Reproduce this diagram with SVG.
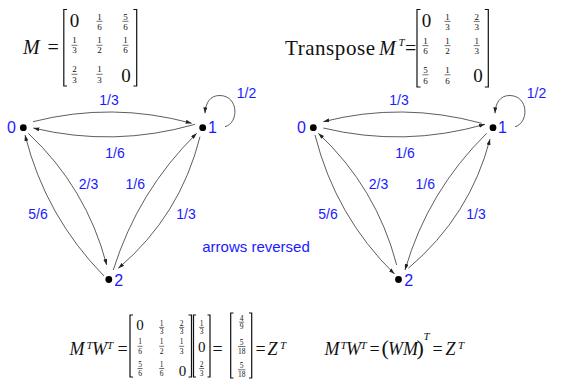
<svg xmlns="http://www.w3.org/2000/svg" width="582" height="383" viewBox="0 0 582 383">
<style>
.bg{fill:#fff}
.m{font-family:"Liberation Serif","Times New Roman",serif;fill:#111}
.mi{font-style:italic}
.big{font-size:20px}
.zero{font-size:19px}
.sup{font-size:11px;font-style:italic}
.fr{font-size:9px;text-anchor:middle}
.fs{font-size:7.5px;text-anchor:middle}
.z15{font-size:15px;text-anchor:middle}
.bar{stroke:#111;stroke-width:0.6}
.br{fill:none;stroke:#111;stroke-width:1.2}
.lbl{font-family:"Liberation Sans",Arial,sans-serif;fill:#1a1aff}
.nl{font-size:16px}
.el{font-size:14px;text-anchor:middle}
.edge{fill:none;stroke:#333;stroke-width:0.8;marker-end:url(#ah)}
.dot{fill:#000}
</style>
<defs>
<marker id="ah" viewBox="0 0 6 4" refX="6" refY="2" markerWidth="6" markerHeight="4" markerUnits="userSpaceOnUse" orient="auto">
<path d="M0,0 L6,2 L0,4 z" fill="#222"/>
</marker>
</defs>
<rect class="bg" x="0" y="0" width="582" height="383"/>

<!-- Matrix M -->
<g id="matrixM" class="m">
<text x="23" y="54" class="big mi">M</text>
<text x="47.5" y="54" class="big">=</text>
<path class="br" d="M67 9.5H63.8V86H67"/>
<path class="br" d="M133.4 9.5H136.7V86H133.4"/>
<text x="74.5" y="26.5" class="zero" text-anchor="middle">0</text>
<text x="99.5" y="19.5" class="fr">1</text><line class="bar" x1="96.5" x2="102.5" y1="21.3" y2="21.3"/><text x="99.5" y="29.5" class="fr">6</text>
<text x="125.5" y="19.5" class="fr">5</text><line class="bar" x1="122.5" x2="128.5" y1="21.3" y2="21.3"/><text x="125.5" y="29.5" class="fr">6</text>
<text x="74.5" y="43.3" class="fr">1</text><line class="bar" x1="71.5" x2="77.5" y1="45.3" y2="45.3"/><text x="74.5" y="53.3" class="fr">3</text>
<text x="99.5" y="43.3" class="fr">1</text><line class="bar" x1="96.5" x2="102.5" y1="45.3" y2="45.3"/><text x="99.5" y="53.3" class="fr">2</text>
<text x="125.5" y="43.3" class="fr">1</text><line class="bar" x1="122.5" x2="128.5" y1="45.3" y2="45.3"/><text x="125.5" y="53.3" class="fr">6</text>
<text x="74.5" y="71.8" class="fr">2</text><line class="bar" x1="71.5" x2="77.5" y1="74.3" y2="74.3"/><text x="74.5" y="83.3" class="fr">3</text>
<text x="99.5" y="71.8" class="fr">1</text><line class="bar" x1="96.5" x2="102.5" y1="74.3" y2="74.3"/><text x="99.5" y="83.3" class="fr">3</text>
<text x="126" y="82" class="zero" text-anchor="middle">0</text>
</g>

<!-- Transpose M^T -->
<g id="matrixMT" class="m">
<text x="285" y="54.5" font-size="21" textLength="90" lengthAdjust="spacing">Transpose</text>
<text x="379" y="54.5" class="big mi">M</text>
<text x="398.5" y="46" class="sup">T</text>
<text x="405" y="54.5" class="big">=</text>
<path class="br" d="M420.5 9.5H417V87H420.5"/>
<path class="br" d="M484.8 9.5H488.3V87H484.8"/>
<text x="426.5" y="26.8" class="zero" text-anchor="middle">0</text>
<text x="447.5" y="19.5" class="fr">1</text><line class="bar" x1="444.5" x2="450.5" y1="21.4" y2="21.4"/><text x="447.5" y="29.8" class="fr">3</text>
<text x="476.7" y="19.5" class="fr">2</text><line class="bar" x1="473.7" x2="479.7" y1="21.4" y2="21.4"/><text x="476.7" y="29.8" class="fr">3</text>
<text x="425.5" y="43.5" class="fr">1</text><line class="bar" x1="422.5" x2="428.5" y1="45.6" y2="45.6"/><text x="425.5" y="54" class="fr">6</text>
<text x="447.5" y="43.5" class="fr">1</text><line class="bar" x1="444.5" x2="450.5" y1="45.6" y2="45.6"/><text x="447.5" y="54" class="fr">2</text>
<text x="476.7" y="43.5" class="fr">1</text><line class="bar" x1="473.7" x2="479.7" y1="45.6" y2="45.6"/><text x="476.7" y="54" class="fr">3</text>
<text x="425.5" y="72.5" class="fr">5</text><line class="bar" x1="422.5" x2="428.5" y1="74.8" y2="74.8"/><text x="425.5" y="83.5" class="fr">6</text>
<text x="447.5" y="72.5" class="fr">1</text><line class="bar" x1="444.5" x2="450.5" y1="74.8" y2="74.8"/><text x="447.5" y="83.5" class="fr">6</text>
<text x="478" y="82.3" class="zero" text-anchor="middle">0</text>
</g>

<!-- Connectors -->
<g id="connectors">
<path class="edge" d="M33 121.7Q112 101.5 191.7 123.3"/>
<path class="edge" d="M195 124.3Q114 147.5 33.3 128"/>
<path class="edge" d="M225 126.7C239 123 239 96 220 95.5C210 95.3 205.5 103 205 113.3"/>
<path class="edge" d="M28.3 133.3Q86.4 187.7 106.7 265"/>
<path class="edge" d="M104 276Q45.6 216.5 25 135"/>
<path class="edge" d="M113.3 270Q138 191 196.7 133.3"/>
<path class="edge" d="M200 136.7Q180.2 215.8 118.3 268.3"/>

<path class="edge" d="M481.7 123.3Q402 101.5 323.3 121.7"/>
<path class="edge" d="M323.3 128Q404 147.5 485 124.3"/>
<path class="edge" d="M515 126.7C529 123 529 96 510 95.5C500 95.3 495.5 103 495 113.3"/>
<path class="edge" d="M396.7 265Q376.4 187.7 318.3 133.3"/>
<path class="edge" d="M315 135Q335.6 216.5 394.5 274"/>
<path class="edge" d="M486.7 133.3Q428 191 405 270"/>
<path class="edge" d="M408.3 268.3Q470.2 215.8 490 139"/>
</g>

<!-- Edge labels -->
<g id="edge-labels" class="lbl">
<text class="el" x="109" y="105">1/3</text>
<text class="el" x="115" y="158">1/6</text>
<text class="el" x="246.5" y="98">1/2</text>
<text class="el" x="88.5" y="189">2/3</text>
<text class="el" x="135.3" y="189">1/6</text>
<text class="el" x="38" y="219">5/6</text>
<text class="el" x="186" y="219">1/3</text>
<text class="el" x="399" y="105">1/3</text>
<text class="el" x="405" y="158">1/6</text>
<text class="el" x="536.5" y="98">1/2</text>
<text class="el" x="378.5" y="189">2/3</text>
<text class="el" x="425.3" y="189">1/6</text>
<text class="el" x="328" y="219">5/6</text>
<text class="el" x="476" y="219">1/3</text>
<text x="256" y="252" font-size="15" text-anchor="middle">arrows reversed</text>
</g>

<!-- Nodes, left graph -->
<g id="node-L0"><circle class="dot" cx="23.3" cy="127.7" r="3.4"/><text class="lbl nl" x="7" y="133.3">0</text></g>
<g id="node-L1"><circle class="dot" cx="202.7" cy="127.7" r="3.4"/><text class="lbl nl" x="208" y="133.3">1</text></g>
<g id="node-L2"><circle class="dot" cx="108.8" cy="279.5" r="3.4"/><text class="lbl nl" x="114.3" y="285.5">2</text></g>
<!-- Nodes, right graph -->
<g id="node-R0"><circle class="dot" cx="313.3" cy="127.7" r="3.4"/><text class="lbl nl" x="297" y="133.3">0</text></g>
<g id="node-R1"><circle class="dot" cx="493" cy="127.7" r="3.4"/><text class="lbl nl" x="498" y="133.3">1</text></g>
<g id="node-R2"><circle class="dot" cx="398.5" cy="279.5" r="3.4"/><text class="lbl nl" x="404.3" y="285.5">2</text></g>

<!-- Bottom equation 1 -->
<g id="equation1" class="m">
<text x="69.5" y="355" font-size="18" class="mi">M</text>
<text x="86.5" y="349" class="sup">T</text>
<text x="92" y="355" font-size="18" class="mi">W</text>
<text x="107" y="349" class="sup">T</text>
<text x="117.5" y="355" font-size="18">=</text>
<path class="br" d="M133 315H130V377H133"/>
<path class="br" d="M188.5 315H191.5V377H188.5"/>
<text x="140" y="329.5" class="z15">0</text>
<text x="161.7" y="325.8" class="fs">1</text><line class="bar" x1="159.2" x2="164.2" y1="327.4" y2="327.4"/><text x="161.7" y="333.6" class="fs">3</text>
<text x="181.7" y="325.8" class="fs">2</text><line class="bar" x1="179.2" x2="184.2" y1="327.4" y2="327.4"/><text x="181.7" y="333.6" class="fs">3</text>
<text x="140" y="344" class="fs">1</text><line class="bar" x1="137.5" x2="142.5" y1="346.3" y2="346.3"/><text x="140" y="354" class="fs">6</text>
<text x="161.7" y="344" class="fs">1</text><line class="bar" x1="159.2" x2="164.2" y1="346.3" y2="346.3"/><text x="161.7" y="354" class="fs">2</text>
<text x="181.7" y="344" class="fs">1</text><line class="bar" x1="179.2" x2="184.2" y1="346.3" y2="346.3"/><text x="181.7" y="354" class="fs">3</text>
<text x="140" y="366.5" class="fs">5</text><line class="bar" x1="137.5" x2="142.5" y1="368.5" y2="368.5"/><text x="140" y="376" class="fs">6</text>
<text x="161.7" y="366.5" class="fs">1</text><line class="bar" x1="159.2" x2="164.2" y1="368.5" y2="368.5"/><text x="161.7" y="376" class="fs">6</text>
<text x="182.5" y="375.5" class="z15">0</text>
<path class="br" d="M196 315H193.5V377H196"/>
<path class="br" d="M207.5 315H210V377H207.5"/>
<text x="201.7" y="325.8" class="fs">1</text><line class="bar" x1="199.2" x2="204.2" y1="327.4" y2="327.4"/><text x="201.7" y="333.6" class="fs">3</text>
<text x="201.7" y="351.5" class="z15">0</text>
<text x="201.7" y="366.5" class="fs">2</text><line class="bar" x1="199.2" x2="204.2" y1="368.5" y2="368.5"/><text x="201.7" y="376" class="fs">3</text>
<text x="212.5" y="355" font-size="18">=</text>
<path class="br" d="M233.5 313H230.7V378H233.5"/>
<path class="br" d="M249 313H251.7V378H249"/>
<text x="241.7" y="320.7" class="fs">4</text><line class="bar" x1="239.2" x2="244.2" y1="322.2" y2="322.2"/><text x="241.7" y="328.5" class="fs">9</text>
<text x="241.7" y="345" class="fs">5</text><line class="bar" x1="238" x2="245.4" y1="346.5" y2="346.5"/><text x="241.7" y="353.5" class="fs">18</text>
<text x="241.7" y="368.3" class="fs">5</text><line class="bar" x1="238" x2="245.4" y1="369.8" y2="369.8"/><text x="241.7" y="377.3" class="fs">18</text>
<text x="255.5" y="355" font-size="18">=</text>
<text x="267.5" y="355" font-size="18" class="mi">Z</text>
<text x="280" y="349" class="sup">T</text>
</g>

<!-- Bottom equation 2 -->
<g id="equation2" class="m">
<text x="324.5" y="355" font-size="18" class="mi">M</text>
<text x="340.5" y="349" class="sup">T</text>
<text x="346" y="355" font-size="18" class="mi">W</text>
<text x="360.5" y="349" class="sup">T</text>
<text x="369.5" y="355" font-size="18">=</text>
<text x="381.5" y="355" font-size="22">(</text>
<text x="388" y="355" font-size="18" class="mi">WM</text>
<text x="416.5" y="355" font-size="22">)</text>
<text x="423.5" y="340" class="sup">T</text>
<text x="432.5" y="355" font-size="18">=</text>
<text x="445.5" y="355" font-size="18" class="mi">Z</text>
<text x="458" y="349" class="sup">T</text>
</g>
</svg>
